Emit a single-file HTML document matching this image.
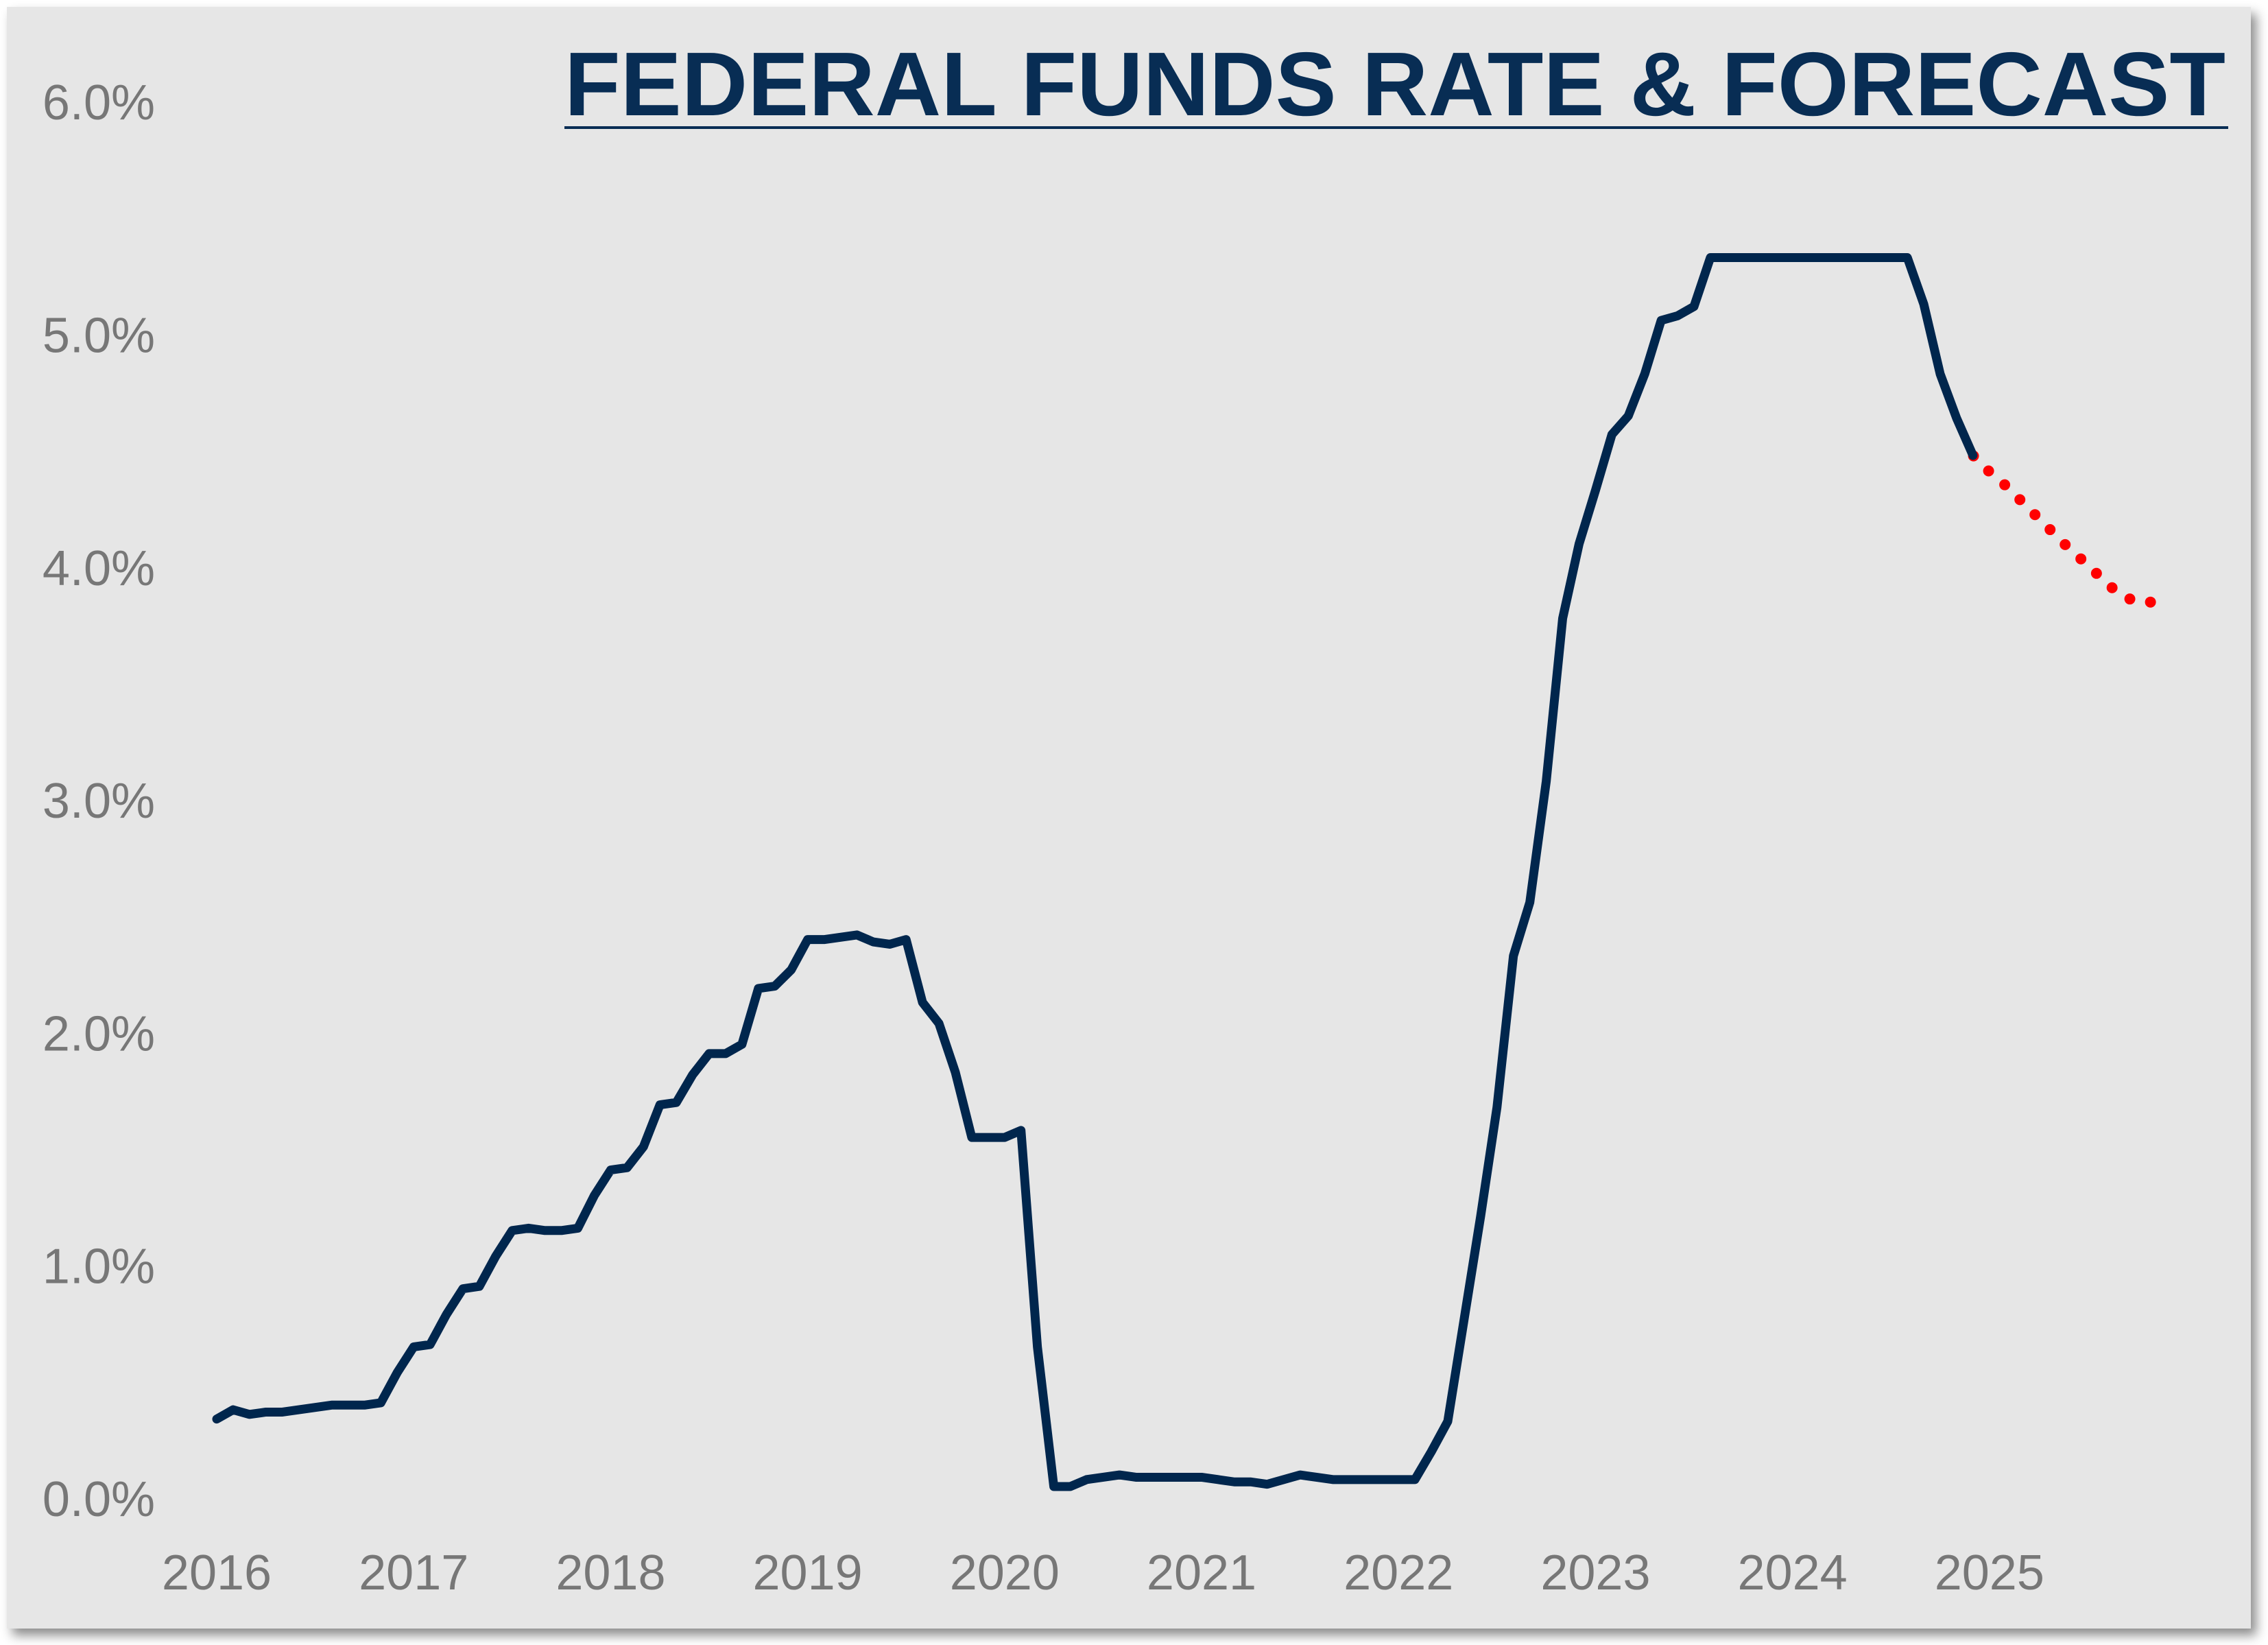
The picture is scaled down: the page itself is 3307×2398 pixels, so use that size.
<!DOCTYPE html>
<html><head><meta charset="utf-8"><style>
html,body{margin:0;padding:0;background:#fff;}
svg{display:block;}
</style></head><body>
<svg id="chart" width="3307" height="2398" viewBox="0 0 3307 2398" xmlns="http://www.w3.org/2000/svg">
<defs><filter id="sh" x="-5%" y="-5%" width="110%" height="110%"><feDropShadow dx="8" dy="10" stdDeviation="8" flood-color="#000" flood-opacity="0.45"/></filter></defs>
<rect x="10" y="10" width="3272" height="2364" fill="#e6e6e6" filter="url(#sh)"/>
<text x="823" y="168" textLength="2422" lengthAdjust="spacingAndGlyphs" font-family="Liberation Sans, sans-serif" font-weight="bold" font-size="132" fill="#082d54">FEDERAL FUNDS RATE &amp; FORECAST</text>
<rect x="823" y="184" width="2426" height="4" fill="#082d54"/>
<g id="yaxis"></g>
<g id="xaxis"></g>
<g id="series"></g>
</svg>
<script>
const yTicks = [0,1,2,3,4,5,6];
const yearLabels = ["2016","2017","2018","2019","2020","2021","2022","2023","2024","2025"];
const actualRates = [
0.34,0.38,0.36,0.37,0.37,0.38,0.39,0.40,0.40,0.40,0.41,0.54,
0.65,0.66,0.79,0.90,0.91,1.04,1.15,1.16,1.15,1.15,1.16,1.30,
1.41,1.42,1.51,1.69,1.70,1.82,1.91,1.91,1.95,2.19,2.20,2.27,
2.40,2.40,2.41,2.42,2.39,2.38,2.40,2.13,2.04,1.83,1.55,1.55,
1.55,1.58,0.65,0.05,0.05,0.08,0.09,0.10,0.09,0.09,0.09,0.09,
0.09,0.08,0.07,0.07,0.06,0.08,0.10,0.09,0.08,0.08,0.08,0.08,
0.08,0.08,0.20,0.33,0.77,1.21,1.68,2.33,2.56,3.08,3.78,4.10,
4.33,4.57,4.65,4.83,5.06,5.08,5.12,5.33,5.33,5.33,5.33,5.33,
5.33,5.33,5.33,5.33,5.33,5.33,5.33,5.33,5.13,4.83,4.64,4.48];
const forecastStart = 107;
const forecastRates = [4.48,4.41,4.35,4.28,4.21,4.14,4.07,4.01,3.94,3.88,3.85,3.85];

const NS = "http://www.w3.org/2000/svg";
const X0 = 316, PER_MONTH = 287.2/12;
const Y0 = 2184, PER_PCT = 339.3;
const xScale = i => X0 + i*PER_MONTH;
const yScale = v => Y0 - v*PER_PCT;
function mk(tag, attrs){const e=document.createElementNS(NS,tag);for(const k in attrs)e.setAttribute(k,attrs[k]);return e;}

const yg = document.getElementById('yaxis');
yTicks.forEach(v=>{
  const t = mk('text',{x:226,y:yScale(v)+26,'text-anchor':'end','font-family':'Liberation Sans, sans-serif','font-size':72,fill:'#777777'});
  
  
  t.textContent = v.toFixed(1)+'%';
  yg.appendChild(t);
});
const xg = document.getElementById('xaxis');
yearLabels.forEach((lab,i)=>{
  const t = mk('text',{x:xScale(i*12),y:2317,'text-anchor':'middle','font-family':'Liberation Sans, sans-serif','font-size':72,fill:'#777777'});
  
  
  t.textContent = lab;
  xg.appendChild(t);
});
const sg = document.getElementById('series');
const fp = forecastRates.map((v,i)=>xScale(forecastStart+i)+','+yScale(v)).join(' ');
const fl = mk('polyline',{points:fp,fill:'none',stroke:'#ff0000','stroke-width':16,'stroke-linecap':'round','stroke-dasharray':'0 31','stroke-dashoffset':'-32'});


sg.appendChild(fl);
const ap = actualRates.map((v,i)=>xScale(i)+','+yScale(v)).join(' ');
const al = mk('polyline',{points:ap,fill:'none',stroke:'#00264d','stroke-width':13,'stroke-linecap':'round','stroke-linejoin':'round'});


sg.appendChild(al);
</script>
</body></html>
